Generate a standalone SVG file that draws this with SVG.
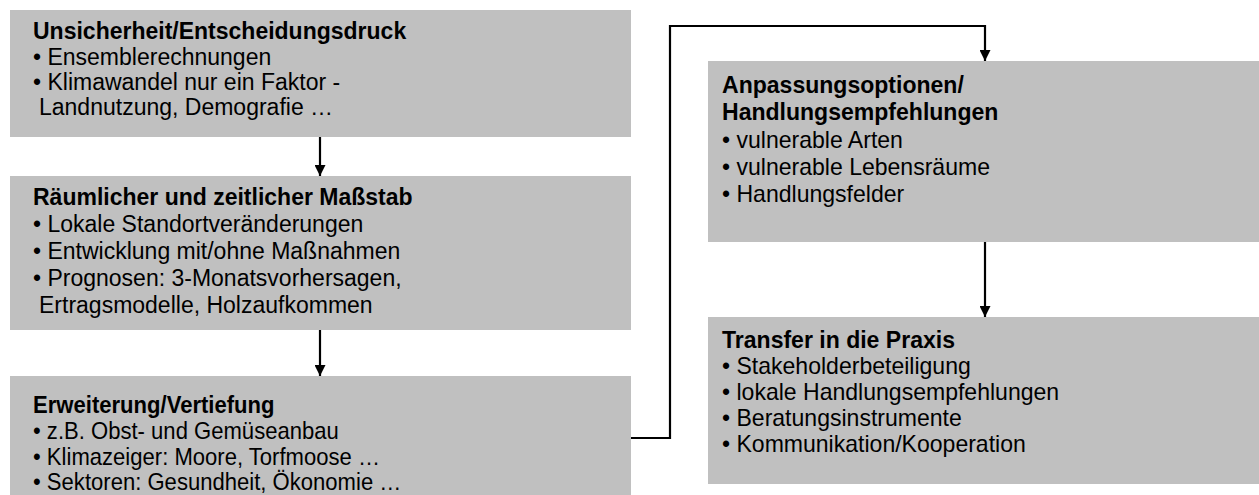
<svg xmlns="http://www.w3.org/2000/svg" width="1259" height="495" viewBox="0 0 1259 495">
<defs>
<style>
.box{fill:#c0c0c0;}
.t{font-family:"Liberation Sans",Arial,sans-serif;fill:#000;}
.a{font-size:23px;}
.b{font-size:24px;}
.h{font-weight:bold;}
.ln{fill:none;stroke:#000;stroke-width:2.2;}
</style>
<marker id="ah" viewBox="0 0 10 10" refX="10" refY="5" markerWidth="5" markerHeight="5" orient="auto" markerUnits="strokeWidth">
<path d="M0,0 L10,5 L0,10 z" fill="#000"/>
</marker>
</defs>
<rect width="1259" height="495" fill="#fff"/>
<g id="node1">
<rect class="box" x="10" y="10" width="621" height="127"/>
<text class="t a h" x="33" y="39">Unsicherheit/Entscheidungsdruck</text>
<text class="t a" x="33" y="65">• Ensemblerechnungen</text>
<text class="t a" x="33" y="90">• Klimawandel nur ein Faktor -</text>
<text class="t a" x="39" y="115">Landnutzung, Demografie …</text>
</g>
<g id="node2">
<rect class="box" x="10" y="176" width="621" height="154"/>
<text class="t a h" x="33" y="205">Räumlicher und zeitlicher Maßstab</text>
<text class="t a" x="33" y="232">• Lokale Standortveränderungen</text>
<text class="t a" x="33" y="259">• Entwicklung mit/ohne Maßnahmen</text>
<text class="t a" x="33" y="286">• Prognosen: 3-Monatsvorhersagen,</text>
<text class="t a" x="39" y="313">Ertragsmodelle, Holzaufkommen</text>
</g>
<g id="node3">
<rect class="box" x="10" y="376" width="621" height="119"/>
<g transform="translate(33,0) scale(0.92,1)">
<text class="t b h" x="0" y="413">Erweiterung/Vertiefung</text>
<text class="t b" x="0" y="439">• z.B. Obst- und Gemüseanbau</text>
<text class="t b" x="0" y="465">• Klimazeiger: Moore, Torfmoose …</text>
<text class="t b" x="0" y="490">• Sektoren: Gesundheit, Ökonomie …</text>
</g>
</g>
<g id="node4">
<rect class="box" x="708" y="61" width="551" height="181"/>
<g transform="translate(722,0) scale(0.96,1)">
<text class="t b h" x="0" y="93">Anpassungsoptionen/</text>
<text class="t b h" x="0" y="120">Handlungsempfehlungen</text>
<text class="t b" x="0" y="148">• vulnerable Arten</text>
<text class="t b" x="0" y="175">• vulnerable Lebensräume</text>
<text class="t b" x="0" y="202">• Handlungsfelder</text>
</g>
</g>
<g id="node5">
<rect class="box" x="708" y="317" width="551" height="167"/>
<g transform="translate(722,0) scale(0.96,1)">
<text class="t b h" x="0" y="348">Transfer in die Praxis</text>
<text class="t b" x="0" y="374">• Stakeholderbeteiligung</text>
<text class="t b" x="0" y="400">• lokale Handlungsempfehlungen</text>
<text class="t b" x="0" y="426">• Beratungsinstrumente</text>
<text class="t b" x="0" y="452">• Kommunikation/Kooperation</text>
</g>
</g>
<g id="connectors">
<path class="ln" d="M320,137 L320,176" marker-end="url(#ah)"/>
<path class="ln" d="M320,330 L320,376" marker-end="url(#ah)"/>
<path class="ln" d="M631,438 L670,438 L670,26 L985,26 L985,61" marker-end="url(#ah)"/>
<path class="ln" d="M985,242 L985,317" marker-end="url(#ah)"/>
</g>
</svg>
